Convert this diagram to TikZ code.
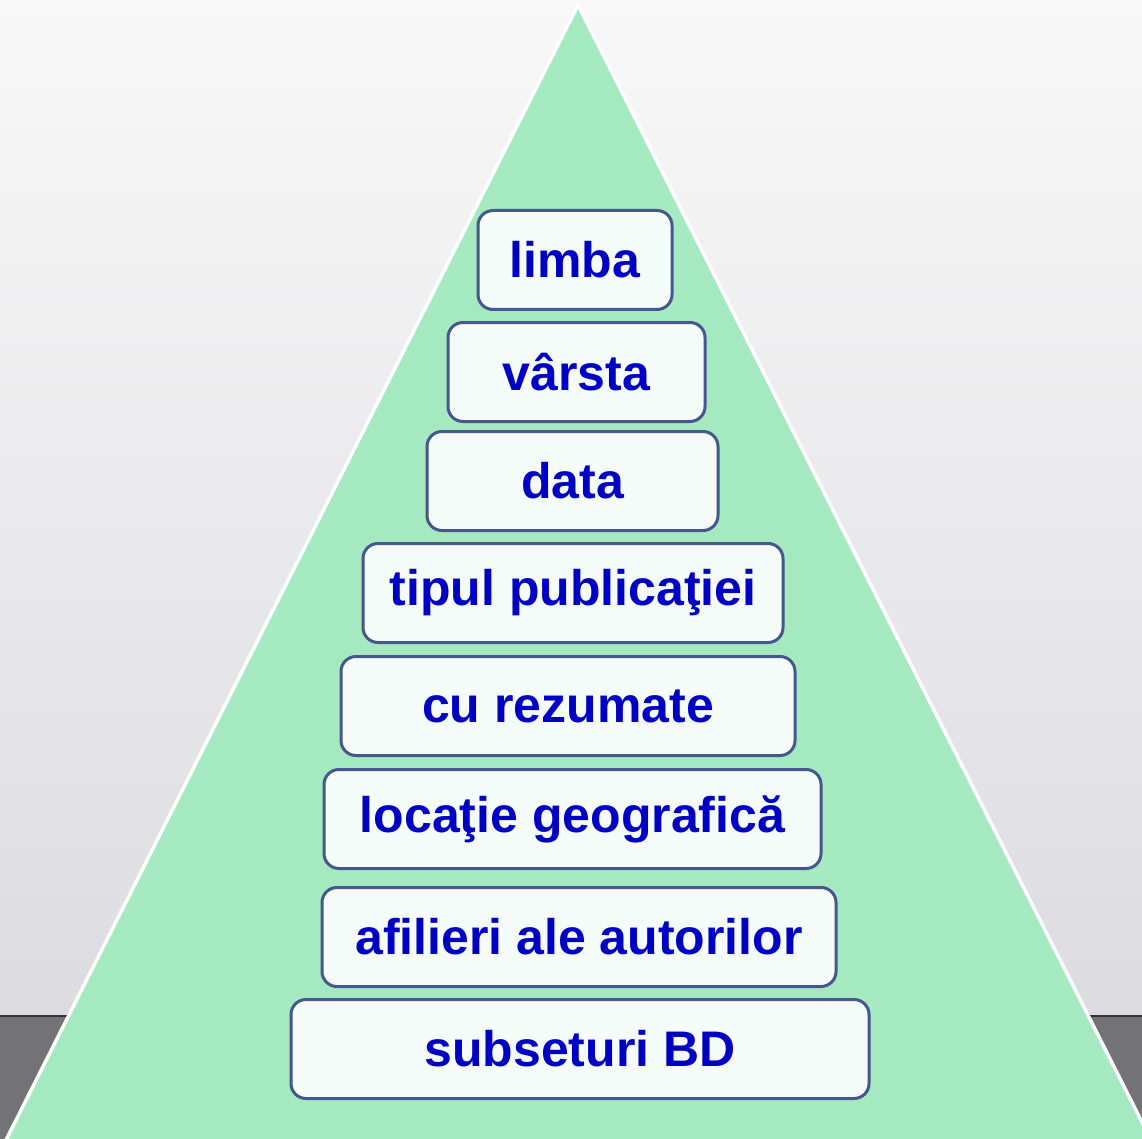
\documentclass[tikz,border=0pt]{standalone}
\usepackage{fontspec}
\setmainfont{Liberation Sans}
\definecolor{skytop}{HTML}{F8F8F8}
\definecolor{skybot}{HTML}{DCDBDF}
\definecolor{floor}{HTML}{737375}
\definecolor{pyramid}{HTML}{A5E9C1}
\definecolor{boxfill}{HTML}{F5FBF8}
\definecolor{boxline}{HTML}{46578C}
\definecolor{label}{HTML}{0000C4}
\tikzset{
  level/.style={draw=boxline,fill=boxfill,line width=3pt,rounded corners=15pt,
    minimum height=99pt,inner sep=0pt,text=label,
    font=\fontsize{50}{60}\selectfont\bfseries}
}
\begin{document}
\begin{tikzpicture}[x=1pt,y=-1pt]
    \useasboundingbox (0,0) rectangle (1142,1139);

    % background
    \shade[top color=skytop,bottom color=skybot] (0,0) rectangle (1142,1016);
    \fill[floor] (0,1016) rectangle (1142,1139);
    \draw[black!80,line width=2pt] (0,1016) -- (1142,1016);

    % pyramid
    \coordinate (apex) at (578,5);
    \coordinate (left) at (5,1142);
    \coordinate (right) at (1152,1142);
    \fill[pyramid] (apex) -- (left) -- (right) -- cycle;
    \draw[white,line width=3.5pt] (left) -- (apex) -- (right);

    \node (limba)    at (575,260)   [level,minimum width=194pt] {limba};
    \node (varsta)   at (576.5,372) [level,minimum width=257pt] {vârsta};
    \node (data)     at (572.5,481) [level,minimum width=291pt] {data};
    \node (tipul)    at (573,593)   [level,minimum width=420pt] {tipul publicaţiei};
    \node (rezumate) at (568,706)   [level,minimum width=454pt] {cu rezumate};
    \node (locatie)  at (572.5,819) [level,minimum width=497pt] {locaţie geografică};
    \node (afilieri) at (579,937)   [level,minimum width=514pt] {afilieri ale autorilor};
    \node (subset)   at (580,1049)  [level,minimum width=578pt] {subseturi BD};

\end{tikzpicture}
\end{document}
